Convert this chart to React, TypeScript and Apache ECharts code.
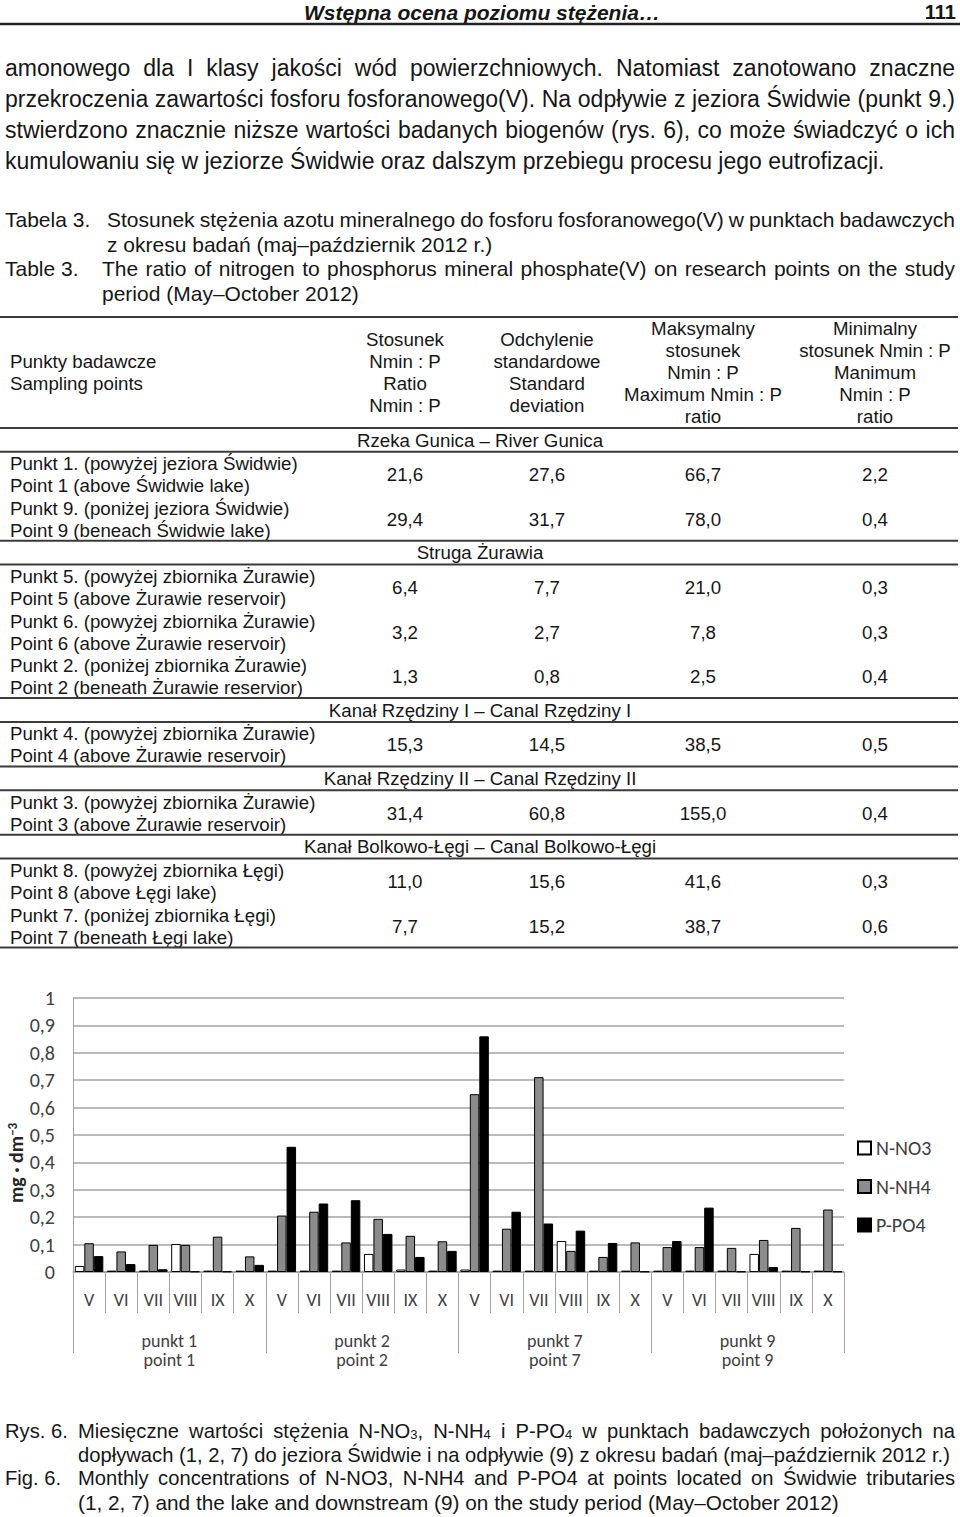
import React, { useEffect, useRef } from 'react';
import * as echarts from 'echarts';

// ---------------- DATA ----------------
const monthLabels = ['V', 'VI', 'VII', 'VIII', 'IX', 'X', 'V', 'VI', 'VII', 'VIII', 'IX', 'X', 'V', 'VI', 'VII', 'VIII', 'IX', 'X', 'V', 'VI', 'VII', 'VIII', 'IX', 'X'];
const pointLabels = ['punkt 1\npoint 1', 'punkt 2\npoint 2', 'punkt 7\npoint 7', 'punkt 9\npoint 9'];
const seriesNames = ['N-NO3', 'N-NH4', 'P-PO4'];
const nNO3 = [0.022, 0.005, 0.005, 0.102, 0.005, 0.005, 0.005, 0.005, 0.005, 0.066, 0.009, 0.005, 0.009, 0.005, 0.005, 0.113, 0.005, 0.005, 0.005, 0.005, 0.005, 0.066, 0.005, 0.005];
const nNH4 = [0.105, 0.075, 0.099, 0.099, 0.129, 0.057, 0.206, 0.22, 0.108, 0.194, 0.132, 0.112, 0.649, 0.158, 0.711, 0.077, 0.055, 0.108, 0.091, 0.091, 0.088, 0.117, 0.161, 0.228];
const pPO4 = [0.058, 0.029, 0.01, 0.002, 0.002, 0.026, 0.457, 0.25, 0.262, 0.139, 0.055, 0.077, 0.86, 0.22, 0.177, 0.151, 0.106, 0.002, 0.113, 0.235, 0.002, 0.018, 0.002, 0.002];
const yMin = 0;
const yMax = 1;
const yInterval = 0.1;
const yAxisTitle = 'mg · dm{sup|−3}';

const headerTitle = 'Wstępna ocena poziomu stężenia…';
const pageNumber = '111';
const paragraphLines = [
  'amonowego dla I klasy jakości wód powierzchniowych. Natomiast zanotowano znaczne',
  'przekroczenia zawartości fosforu fosforanowego(V). Na odpływie z jeziora Świdwie (punkt 9.)',
  'stwierdzono znacznie niższe wartości badanych biogenów (rys. 6), co może świadczyć o ich',
  'kumulowaniu się w jeziorze Świdwie oraz dalszym przebiegu procesu jego eutrofizacji.',
];
const tableCaptionPl = ['Stosunek stężenia azotu mineralnego do fosforu fosforanowego(V) w punktach badawczych', 'z okresu badań (maj–październik 2012 r.)'];
const tableCaptionEn = ['The ratio of nitrogen to phosphorus mineral phosphate(V) on research points on the study', 'period (May–October 2012)'];
const figCaptionPl = ['Miesięczne wartości stężenia N-NO_3, N-NH_4 i P-PO_4 w punktach badawczych położonych na', 'dopływach (1, 2, 7) do jeziora Świdwie i na odpływie (9) z okresu badań (maj–październik 2012 r.)'];
const figCaptionEn = ['Monthly concentrations of N-NO3, N-NH4 and P-PO4 at points located on Świdwie tributaries', '(1, 2, 7) and the lake and downstream (9) on the study period (May–October 2012)'];

const headerCol0 = ['Punkty badawcze', 'Sampling points'];
const headerCols = [
  ['Stosunek', 'Nmin : P', 'Ratio', 'Nmin : P'],
  ['Odchylenie', 'standardowe', 'Standard', 'deviation'],
  ['Maksymalny', 'stosunek', 'Nmin : P', 'Maximum Nmin : P', 'ratio'],
  ['Minimalny', 'stosunek Nmin : P', 'Manimum', 'Nmin : P', 'ratio'],
];
const tableSections = ['Rzeka Gunica – River Gunica', 'Struga Żurawia', 'Kanał Rzędziny I – Canal Rzędziny I', 'Kanał Rzędziny II – Canal Rzędziny II', 'Kanał Bolkowo-Łęgi – Canal Bolkowo-Łęgi'];
const sectionRowCounts = [2, 3, 1, 1, 2];
const pointNamesPl = ['Punkt 1. (powyżej jeziora Świdwie)', 'Punkt 9. (poniżej jeziora Świdwie)', 'Punkt 5. (powyżej zbiornika Żurawie)', 'Punkt 6. (powyżej zbiornika Żurawie)', 'Punkt 2. (poniżej zbiornika Żurawie)', 'Punkt 4. (powyżej zbiornika Żurawie)', 'Punkt 3. (powyżej zbiornika Żurawie)', 'Punkt 8. (powyżej zbiornika Łęgi)', 'Punkt 7. (poniżej zbiornika Łęgi)'];
const pointNamesEn = ['Point 1 (above Świdwie lake)', 'Point 9 (beneach Świdwie lake)', 'Point 5 (above Żurawie reservoir)', 'Point 6 (above Żurawie reservoir)', 'Point 2 (beneath Żurawie reservior)', 'Point 4 (above Żurawie reservoir)', 'Point 3 (above Żurawie reservoir)', 'Point 8 (above Łęgi lake)', 'Point 7 (beneath Łęgi lake)'];
const ratioValues = ['21,6', '29,4', '6,4', '3,2', '1,3', '15,3', '31,4', '11,0', '7,7'];
const sdValues = ['27,6', '31,7', '7,7', '2,7', '0,8', '14,5', '60,8', '15,6', '15,2'];
const maxValues = ['66,7', '78,0', '21,0', '7,8', '2,5', '38,5', '155,0', '41,6', '38,7'];
const minValues = ['2,2', '0,4', '0,3', '0,3', '0,4', '0,5', '0,4', '0,3', '0,6'];

// ---------------- STYLE ----------------
const FF = '"Liberation Sans", Arial, Helvetica, sans-serif';
const CF = 'Carlito, Lato, "Open Sans", sans-serif';
const INK = '#161616';
const AXIS_GRAY = '#a3a3a3';
const CHART_TEXT = '#404040';

export default function App() {
  const ref = useRef<HTMLDivElement>(null);

  useEffect(() => {
    const el = ref.current!;
    const chart = echarts.init(el, null, { renderer: 'svg' });
    const ctx = document.createElement('canvas').getContext('2d')!;
    const g: any[] = [];

    const subRich = (size: number) => ({
      sub: { fontSize: Math.round(size * 0.65), fontFamily: FF, fill: INK, verticalAlign: 'bottom', lineHeight: 10 },
    });
    const txt = (text: string, x: number, y: number, size: number, extra: any = {}) => {
      g.push({
        type: 'text', x, y, silent: true,
        style: { text, fontSize: size, fontFamily: FF, fill: INK, align: 'left', verticalAlign: 'middle', ...extra },
      });
    };
    const wordWidth = (w: string, size: number) => {
      const parts = w.split(/_(\d)/);
      let total = 0;
      parts.forEach((p, i) => {
        ctx.font = `${i % 2 ? Math.round(size * 0.65) : size}px ${FF}`;
        total += ctx.measureText(p).width;
      });
      return total;
    };
    const line = (text: string, x0: number, y: number, size: number, justifyTo?: number) => {
      const words = text.split(' ');
      ctx.font = `${size}px ${FF}`;
      const space = ctx.measureText(' ').width;
      const widths = words.map((w) => wordWidth(w, size));
      const sum = widths.reduce((a, b) => a + b, 0);
      const gap = justifyTo && words.length > 1 ? (justifyTo - x0 - sum) / (words.length - 1) : space;
      let x = x0;
      words.forEach((w, i) => {
        txt(w.replace(/_(\d)/g, '{sub|$1}'), x, y, size, { rich: subRich(size) });
        x += widths[i] + gap;
      });
    };
    const rule = (y: number, w = 2) => {
      g.push({ type: 'line', silent: true, shape: { x1: 0, y1: y, x2: 958, y2: y }, style: { stroke: '#3a3a3a', lineWidth: w } });
    };

    // Page header
    txt(headerTitle, 482, 12, 21, { align: 'center', fontWeight: 'bold', fontStyle: 'italic' });
    txt(pageNumber, 956, 12, 20, { align: 'right', fontWeight: 'bold' });
    g.push({ type: 'line', silent: true, shape: { x1: 0, y1: 24, x2: 960, y2: 24 }, style: { stroke: '#222', lineWidth: 2.5 } });

    // Paragraph
    const PS = 23;
    paragraphLines.forEach((l, i) => line(l, 5, 68 + i * 31, PS, i < paragraphLines.length - 1 ? 955 : undefined));

    // Table caption
    const CS = 21;
    txt('Tabela 3.', 5, 219, CS);
    line(tableCaptionPl[0], 107, 219, CS, 955);
    line(tableCaptionPl[1], 107, 244, CS);
    txt('Table 3.', 5, 268, CS);
    line(tableCaptionEn[0], 102, 268, CS, 955);
    line(tableCaptionEn[1], 102, 293, CS);

    // Table
    const TS = 18.7;
    const colX = [405, 547, 703, 875];
    rule(317);
    headerCol0.forEach((l, i) => txt(l, 10, 361 + i * 22, TS));
    headerCols.forEach((lines, c) => {
      const n = lines.length;
      lines.forEach((l, i) => txt(l, colX[c], 372 + (i - (n - 1) / 2) * 22, TS, { align: 'center' }));
    });
    let y = 428;
    rule(y);
    let rowIdx = 0;
    const cols = [ratioValues, sdValues, maxValues, minValues];
    tableSections.forEach((title, s) => {
      txt(title, 480, y + 12, TS, { align: 'center' });
      y += 23.8;
      rule(y);
      for (let k = 0; k < sectionRowCounts[s]; k++) {
        txt(pointNamesPl[rowIdx], 10, y + 12, TS);
        txt(pointNamesEn[rowIdx], 10, y + 34, TS);
        cols.forEach((arr, c) => txt(arr[rowIdx], colX[c], y + 23, TS, { align: 'center' }));
        y += 44.5;
        rowIdx++;
      }
      rule(y);
    });

    // Figure caption
    const FS = 20.2;
    txt('Rys. 6.', 5, 1431, FS);
    line(figCaptionPl[0], 78, 1431, FS, 955);
    line(figCaptionPl[1], 78, 1455, FS);
    txt('Fig. 6.', 5, 1478, FS);
    line(figCaptionEn[0], 78, 1478, FS, 955);
    line(figCaptionEn[1], 78, 1502, 20.8);

    // Y axis title (rotated)
    g.push({
      type: 'text', x: 16, y: 1163, rotation: Math.PI / 2, silent: true,
      style: {
        text: yAxisTitle, fontSize: 20, fontFamily: CF, fontWeight: 'bold', fill: '#262626', align: 'center', verticalAlign: 'middle',
        rich: { sup: { fontSize: 13, fontFamily: CF, fontWeight: 'bold', fill: '#262626', verticalAlign: 'top', lineHeight: 12 } },
      },
    });

    const barBase = { type: 'bar', barWidth: 9.5, barGap: '0%', xAxisIndex: 0, yAxisIndex: 0 };
    const option: any = {
      animation: false,
      backgroundColor: '#fff',
      grid: { left: 73, right: 116, top: 998, bottom: 245, containLabel: false },
      legend: {
        orient: 'vertical', left: 852, top: 1133, itemWidth: 13, itemHeight: 13, itemGap: 18.5, icon: 'rect',
        textStyle: { fontSize: 20, color: CHART_TEXT, fontFamily: CF, lineHeight: 20 },
        data: seriesNames,
      },
      xAxis: [
        {
          type: 'category', data: monthLabels, position: 'bottom',
          axisLine: { show: true, lineStyle: { color: AXIS_GRAY, width: 1.5 } },
          axisTick: { show: true, interval: 0, length: 41, lineStyle: { color: AXIS_GRAY, width: 1 } },
          axisLabel: { interval: 0, margin: 19, fontSize: 18, color: CHART_TEXT, fontFamily: CF },
        },
        {
          type: 'category', data: pointLabels, position: 'bottom',
          axisLine: { show: false },
          axisTick: { show: true, interval: 0, length: 81, lineStyle: { color: AXIS_GRAY, width: 1 } },
          axisLabel: { interval: 0, margin: 59, fontSize: 18, lineHeight: 19, color: CHART_TEXT, fontFamily: CF },
        },
      ],
      yAxis: {
        type: 'value', min: yMin, max: yMax, interval: yInterval,
        axisLine: { show: true, lineStyle: { color: AXIS_GRAY, width: 1 } },
        axisTick: { show: false },
        splitLine: { lineStyle: { color: AXIS_GRAY, width: 1.5 } },
        axisLabel: {
          margin: 18, fontSize: 20, color: CHART_TEXT, fontFamily: CF,
          formatter: (v: number) => String(+v.toFixed(1)).replace('.', ','),
        },
      },
      series: [
        { ...barBase, name: seriesNames[0], data: nNO3, itemStyle: { color: '#ffffff', borderColor: '#000', borderWidth: 1 } },
        { ...barBase, name: seriesNames[1], data: nNH4, itemStyle: { color: '#8c8c8c', borderColor: '#000', borderWidth: 1 } },
        { ...barBase, name: seriesNames[2], data: pPO4, itemStyle: { color: '#000000', borderColor: '#000', borderWidth: 1 } },
      ],
      graphic: { elements: g },
    };
    chart.setOption(option);
    return () => chart.dispose();
  }, []);

  return <div ref={ref} style={{ position: 'absolute', left: 0, top: 0, width: 960, height: 1517, background: '#fff' }} />;
}
